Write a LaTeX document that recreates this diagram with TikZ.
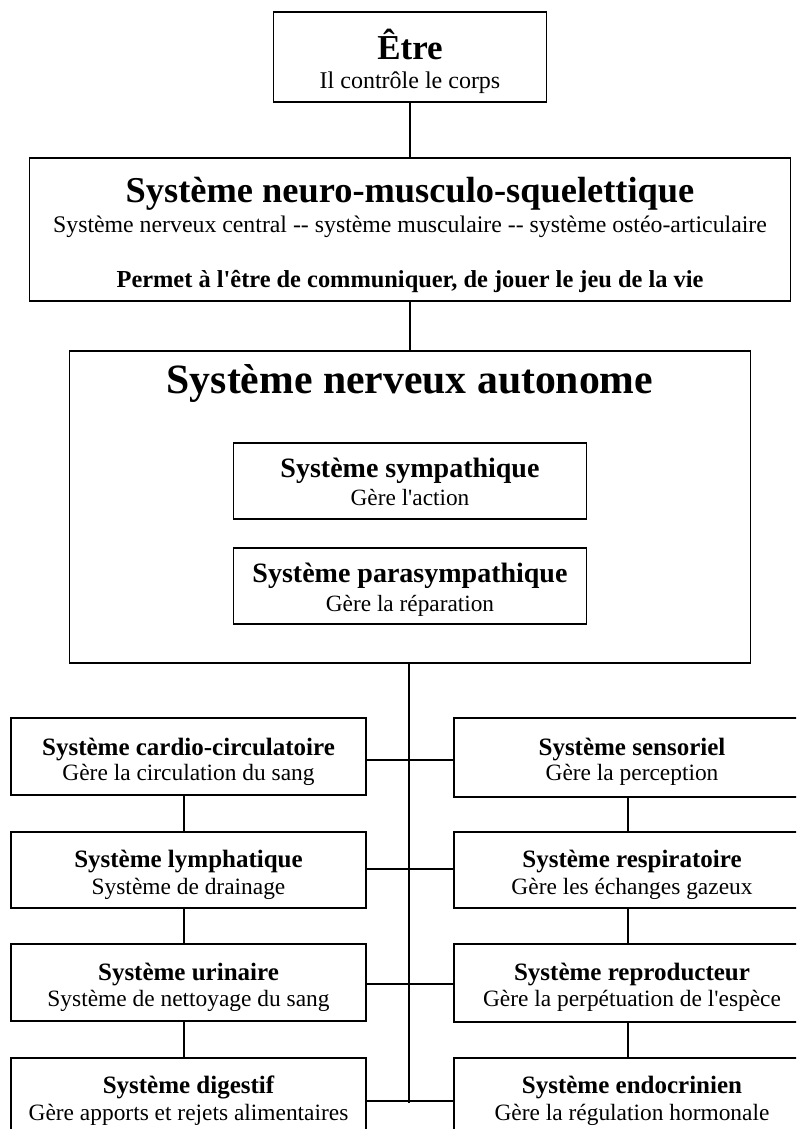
\documentclass[tikz,border=0pt]{standalone}
\usepackage{fontspec}
\setmainfont{Liberation Serif}[Ligatures=TeXOff]
\newcommand{\fs}[1]{\fontsize{#1}{#1}\selectfont}
\begin{document}
\begin{tikzpicture}[x=1pt,y=-1pt,
  box/.style={draw=black, line width=1.4pt, inner sep=0pt},
  txt/.style={anchor=base, inner sep=0pt},
  conn/.style={line width=1.4pt}]
\useasboundingbox (0,0) rectangle (796,1129);
\clip (0,0) rectangle (796,1129);
\fill[white] (0,0) rectangle (796,1129);
% top boxes
\node[box, minimum width=273pt, minimum height=90pt] (etre) at (410,57) {};
\node[txt] (etreT) at (410,60) {\fs{35}\bfseries Être};
\node[txt] (etreS) at (410,89) {\fs{24}Il contrôle le corps};
\node[box, minimum width=761pt, minimum height=143pt] (neuro) at (410,229.5) {};
\node[txt] (neuroT) at (410,202) {\fs{36.4}\bfseries Système neuro-musculo-squelettique};
\node[txt] (neuroS) at (410,232) {\fs{23.8}Système nerveux central -- système musculaire -- système ostéo-articulaire};
\node[txt] (neuroP) at (410,287) {\fs{24.4}\bfseries Permet à l'être de communiquer, de jouer le jeu de la vie};
\node[box, minimum width=681pt, minimum height=312pt] (sna) at (410,507) {};
\node[txt] (snaT) at (410,393) {\fs{41.7}\bfseries Système nerveux autonome};
\node[box, minimum width=353pt, minimum height=76pt] (symp) at (410,481) {};
\node[txt] (sympT) at (410,477) {\fs{28}\bfseries Système sympathique};
\node[txt] (sympS) at (410,505) {\fs{23.3}Gère l'action};
\node[box, minimum width=353pt, minimum height=76pt] (para) at (410,586) {};
\node[txt] (paraT) at (410,582) {\fs{28}\bfseries Système parasympathique};
\node[txt] (paraS) at (410,611) {\fs{23.3}Gère la réparation};
% left column
\node[box, minimum width=355pt, minimum height=77pt] (l1) at (188.5,756.5) {};
\node[box, minimum width=355pt, minimum height=76pt] (l2) at (188.5,870) {};
\node[box, minimum width=355pt, minimum height=77pt] (l3) at (188.5,982.5) {};
\node[box, minimum width=355pt, minimum height=84pt] (l4) at (188.5,1100) {};
\node[txt] (l1T) at (188.5,755) {\fs{25}\bfseries Système cardio-circulatoire};
\node[txt] (l1S) at (188.5,780) {\fs{23.4}Gère la circulation du sang};
\node[txt] (l2T) at (188.5,867) {\fs{25}\bfseries Système lymphatique};
\node[txt] (l2S) at (188.5,894) {\fs{23.4}Système de drainage};
\node[txt] (l3T) at (188.5,980) {\fs{25}\bfseries Système urinaire};
\node[txt] (l3S) at (188.5,1006) {\fs{23.4}Système de nettoyage du sang};
\node[txt] (l4T) at (188.5,1093) {\fs{25}\bfseries Système digestif};
\node[txt] (l4S) at (188.5,1120) {\fs{23.4}Gère apports et rejets alimentaires};
% right column
\node[box, minimum width=366pt, minimum height=79pt] (r1) at (637,757.5) {};
\node[box, minimum width=366pt, minimum height=76pt] (r2) at (637,870) {};
\node[box, minimum width=366pt, minimum height=78pt] (r3) at (637,983) {};
\node[box, minimum width=366pt, minimum height=84pt] (r4) at (637,1100) {};
\node[txt] (r1T) at (632,755) {\fs{25}\bfseries Système sensoriel};
\node[txt] (r1S) at (632,780) {\fs{23.4}Gère la perception};
\node[txt] (r2T) at (632,867) {\fs{25}\bfseries Système respiratoire};
\node[txt] (r2S) at (632,894) {\fs{23.4}Gère les échanges gazeux};
\node[txt] (r3T) at (632,980) {\fs{25}\bfseries Système reproducteur};
\node[txt] (r3S) at (632,1006) {\fs{23.4}Gère la perpétuation de l'espèce};
\node[txt] (r4T) at (632,1093) {\fs{25}\bfseries Système endocrinien};
\node[txt] (r4S) at (632,1120) {\fs{23.4}Gère la régulation hormonale};
% connectors
\coordinate (trunkEnd) at (409,1103);
\coordinate (h1) at (0,760);
\coordinate (h2) at (0,869);
\coordinate (h3) at (0,984);
\coordinate (h4) at (0,1101);
\draw[conn] (etre.south) -- (neuro.north);
\draw[conn] (neuro.south) -- (sna.north);
\draw[conn] (sna.south -| trunkEnd) -- (trunkEnd);
\foreach \i in {1,2,3,4} {
  \draw[conn] (l\i.east |- h\i) -- (r\i.west |- h\i);
}
\foreach \a/\b in {l1/l2,l2/l3,l3/l4} {
  \draw[conn] ([xshift=-4.5pt]\a.south) -- ([xshift=-4.5pt]\b.north);
}
\foreach \a/\b in {r1/r2,r2/r3,r3/r4} {
  \draw[conn] ([xshift=-9pt]\a.south) -- ([xshift=-9pt]\b.north);
}
\end{tikzpicture}
\end{document}
